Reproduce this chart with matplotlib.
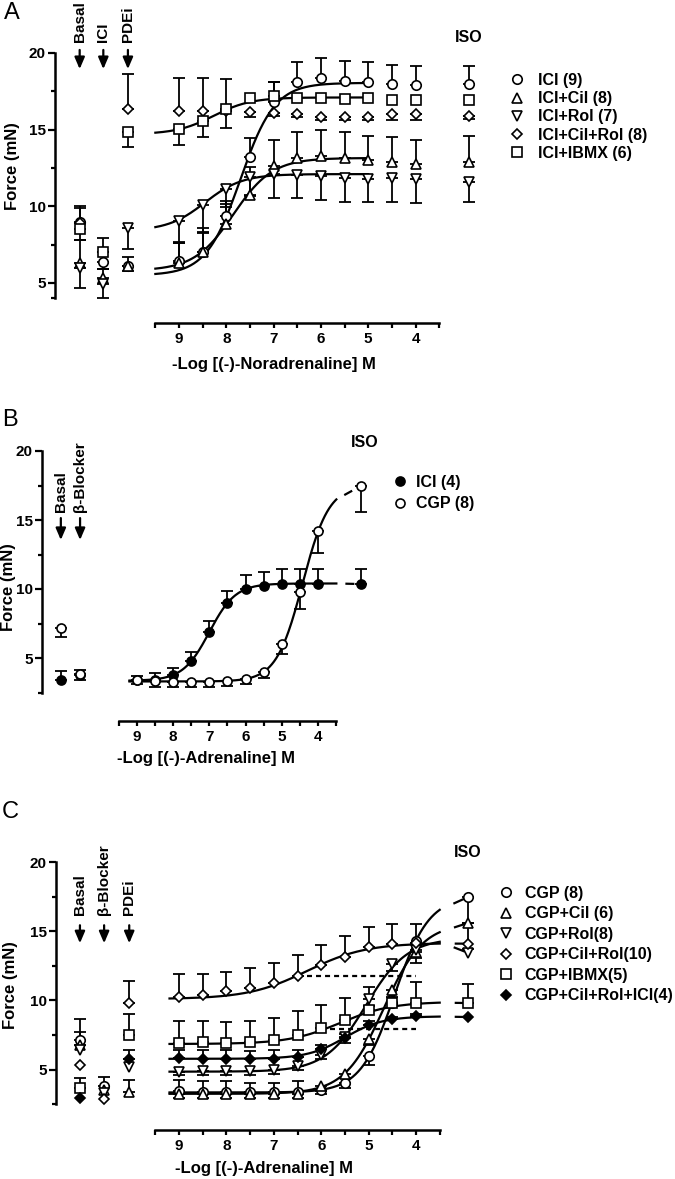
import numpy as np
import matplotlib.pyplot as plt
from matplotlib import font_manager
from matplotlib.lines import Line2D

plt.rcParams['font.family'] = ['Liberation Sans', 'DejaVu Sans']
plt.rcParams['font.weight'] = 'bold'
plt.rcParams['lines.scale_dashes'] = False

installed = {f.name for f in font_manager.fontManager.ttflist}
NARROW = 'Liberation Sans Narrow' if 'Liberation Sans Narrow' in installed else 'Liberation Sans'

W, H = 675, 1179
conc = [9, 8.5, 8, 7.5, 7, 6.5, 6, 5.5, 5, 4.5, 4]

# ---------------- panel A : noradrenaline ----------------
a_labels = ['ICI (9)', 'ICI+Cil (8)', 'ICI+Rol (7)', 'ICI+Cil+Rol (8)', 'ICI+IBMX (6)']
a_y = [
    [6.4, 7.05, 9.35, 13.2, 16.8, 18.1, 18.4, 18.15, 18.1, 17.95, 17.9],
    [6.3, 7.0, 8.85, 10.75, 12.65, 13.15, 13.3, 13.15, 13.0, 12.9, 12.75],
    [9.05, 10.1, 11.1, 11.9, 12.1, 12.05, 11.95, 11.85, 11.8, 11.85, 11.75],
    [16.2, 16.2, 16.2, 16.15, 16.1, 16.05, 15.8, 15.8, 15.8, 16.0, 16.0],
    [15.05, 15.55, 16.35, 17.05, 17.2, 17.05, 17.05, 17.0, 17.05, 16.95, 16.95],
]
# signed SEM: + drawn upwards, - drawn downwards
a_err = [
    [1.2, 1.2, 1.0, 1.25, 1.3, 1.3, 1.3, 1.3, 1.3, 1.25, 1.25],
    [1.3, 1.6, 1.3, 1.8, 1.65, 1.7, 1.7, 1.7, 1.6, 1.65, 1.6],
    [-1.4, -1.8, -1.15, -1.2, -1.55, -1.5, -1.55, -1.6, -1.55, -1.6, -1.55],
    [2.2, 2.15, 2.1, -0.35, -0.2, -0.25, -0.2, -0.2, -0.2, -0.4, -0.35],
    [-1.05, -1.05, -1.25, 0, 0.9, 0, 0, 0, 0, 0, 0],
]
a_side = ['Basal', 'ICI', 'PDEi']
a_side_y = [[8.95, 6.35, 6.1], [6.3, 5.3, 6.1], [6.0, 4.95, 8.6],
            [8.9, 7.05, 16.35], [8.5, 7.0, 14.85]]
a_side_err = [[1.1, -0.45, -0.35], [1.5, 0.6, 0.6], [-1.3, -0.9, -1.4],
              [1.0, 0.85, 2.25], [-0.7, 0, -1.0]]
a_iso_y = [18.0, 12.9, 11.6, 15.87, 16.96]
a_iso_err = [1.13, 1.68, -1.33, -0.2, 0]
# sigmoid fits: bottom, top, -logEC50, slope
a_fit = [(5.5, 18.05, 7.7, 1.2), (5.8, 13.15, 7.85, 1.05), (8.4, 12.1, 8.45, 1.1),
         None, (14.7, 17.1, 8.27, 1.1)]

# ---------------- panel B : adrenaline ----------------
b_labels = ['ICI (4)', 'CGP (8)']
b_y = [
    [3.41, 3.41, 3.77, 4.78, 6.9, 9.0, 10.0, 10.24, 10.36, 10.36, 10.36],
    [3.41, 3.33, 3.29, 3.29, 3.29, 3.33, 3.48, 4.0, 5.99, 9.76, 14.23],
]
b_err = [
    [0.3, 0.5, 0.48, 0.68, 0.8, 0.88, 1.0, 0.96, 1.06, 1.06, 1.1],
    [-0.3, -0.4, -0.4, -0.4, -0.4, -0.35, -0.35, -0.43, -0.7, -1.19, -1.6],
]
b_side = ['Basal', 'β-Blocker']
b_side_y = [[3.41, 3.75], [7.15, 3.82]]
b_side_err = [[0.65, 0.4], [-0.65, -0.45]]
b_iso_y = [10.36, 17.46]
b_iso_err = [1.1, -1.86]
b_fit = [(3.35, 10.4, 7.0, 1.2), (3.3, 17.5, 4.43, 1.2)]

# ---------------- panel C : adrenaline + PDE inhibitors ----------------
c_labels = ['CGP (8)', 'CGP+Cil (6)', 'CGP+Rol(8)', 'CGP+Cil+Rol(10)', 'CGP+IBMX(5)',
            'CGP+Cil+Rol+ICI(4)']
c_y = [
    [3.42, 3.4, 3.4, 3.35, 3.35, 3.37, 3.54, 4.02, 5.95, 9.81, 14.27],
    [3.25, 3.25, 3.25, 3.25, 3.25, 3.25, 3.78, 4.7, 7.18, 10.77, 13.5],
    [4.85, 4.88, 4.88, 4.88, 4.94, 5.25, 6.07, 7.35, 10.07, 12.65, 13.66],
    [10.24, 10.36, 10.65, 10.92, 11.25, 11.73, 12.53, 13.13, 13.86, 14.1, 14.14],
    [6.95, 7.0, 6.92, 6.99, 7.16, 7.47, 8.0, 8.55, 9.33, 9.81, 9.83],
    [5.85, 5.8, 5.8, 5.78, 5.8, 5.9, 6.5, 7.3, 8.24, 8.63, 8.84],
]
c_err = [
    [0.8, 0.8, 0.8, 0.7, 0.7, 0.8, -0.3, -0.35, -0.6, 0, 0],
    [-0.3, -0.3, -0.3, -0.3, -0.3, -0.3, -0.3, -0.3, -0.4, -0.5, -0.8],
    [-0.25, -0.25, -0.25, -0.25, -0.25, -0.25, -0.3, -0.4, -0.5, -0.5, -0.6],
    [1.64, 1.57, 1.4, 1.42, 1.45, 1.52, 1.45, 1.5, 1.44, 1.44, 1.4],
    [1.54, 1.5, 1.55, 1.5, 1.6, 1.73, 1.69, 1.64, 1.63, 0, 1.5],
    [0.6, 0.6, 0.6, 0.6, 0.6, 0.55, 0.3, 0.3, 0.3, 0.2, 0.2],
]
c_side = ['Basal', 'β-Blocker', 'PDEi']
c_side_y = [[7.16, 3.8, np.nan], [6.75, 3.5, 3.37], [6.45, 3.3, 5.18],
            [5.35, 2.9, 9.83], [3.69, np.nan, 7.52], [2.94, np.nan, 5.78]]
c_side_err = [[1.47, 0.7, 0], [0.95, 0, 0.9], [0, 0, 0],
              [0, 0, 1.54], [0.7, 0, 1.52], [0, 0, 0.65]]
c_iso_y = [17.47, 15.6, 13.43, 14.1, 9.81, 8.8]
c_iso_err = [-1.9, -1.9, 0, 0, 1.35, 0]
c_fit = [(3.35, 17.5, 4.45, 1.2), (3.25, 15.6, 4.68, 1.05), (4.85, 14.5, 5.05, 1.0),
         (10.1, 14.15, 6.3, 0.7), (6.85, 9.9, 5.6, 0.8), (5.78, 8.85, 5.5, 1.1)]
c_level_y = [11.76, 7.91]
c_level_from = [6.31, 5.81]
c_level_to = [4.0, 4.0]


def hill(x, bottom, top, pec50, slope):
    return bottom + (top - bottom) / (1 + 10 ** ((np.asarray(x) - pec50) * slope))


def make_axes(fig, box, x9, xunit, y20, yunit, ybottom, family, tsize):
    l, t, r, b = box
    ax = fig.add_axes([l / W, 1 - b / H, (r - l) / W, (b - t) / H])
    ax.set_xlim(9 + (x9 - l) / xunit, 9 - (r - x9) / xunit)
    ax.set_ylim(20 - (b - y20) / yunit, 20 + (y20 - t) / yunit)
    ax.patch.set_visible(False)
    ax.spines['top'].set_visible(False)
    ax.spines['right'].set_visible(False)
    for s in ['left', 'bottom']:
        ax.spines[s].set_linewidth(1.8)
    ax.spines['left'].set_bounds(ybottom, 20)
    ax.spines['bottom'].set_bounds(3.5, 9.5)
    ax.set_yticks([5, 10, 15, 20])
    ax.set_yticks([ybottom, 7.5, 12.5, 17.5], minor=True)
    ax.set_xticks([9, 8, 7, 6, 5, 4])
    ax.set_xticks([9.5, 8.5, 7.5, 6.5, 5.5, 4.5, 3.5], minor=True)
    ax.tick_params(axis='y', which='major', direction='out', length=5, width=1.6,
                   pad=1.5, labelsize=tsize, labelfontfamily=family)
    ax.tick_params(axis='y', which='minor', direction='out', length=3, width=1.6)
    ax.tick_params(axis='x', which='both', direction='out', length=3.5, width=1.6,
                   pad=3, labelsize=tsize, labelfontfamily=family)
    return ax


def draw_panel(ax, ys, errs, markers, filled, fits, side_y, side_err, side_x,
               iso_y, iso_err, iso_x, ms, fit_range, iso_dash=None):
    for i in range(len(ys)):
        x = np.array(conc + side_x + [iso_x], dtype=float)
        y = np.array(ys[i] + side_y[i] + [iso_y[i]], dtype=float)
        e = np.array(errs[i] + side_err[i] + [iso_err[i]], dtype=float)
        ok = ~np.isnan(y)
        x, y, e = x[ok], y[ok], e[ok]
        if fits[i] is not None:
            xx = np.linspace(fit_range[0], fit_range[1], 200)
            ax.plot(xx, hill(xx, *fits[i]), color='k', lw=1.6, zorder=2)
            if iso_dash is not None:
                ax.plot([fit_range[1], iso_x], [hill(fit_range[1], *fits[i]), iso_y[i]],
                        color='k', lw=1.6, ls=iso_dash, zorder=2)
        bar = e != 0
        lower = np.where(e < 0, -e, 0)
        upper = np.where(e > 0, e, 0)
        ax.errorbar(x[bar], y[bar], yerr=[lower[bar], upper[bar]], fmt='none',
                    ecolor='k', elinewidth=1.3, capsize=4, capthick=1.3, zorder=3)
        size = ms * 0.75 if markers[i] == 'D' else ms
        ax.plot(x, y, ls='none', marker=markers[i], ms=size, mew=1.2, mec='k',
                mfc='k' if filled[i] else 'white', zorder=4 + i * 0.01)


def side_labels(ax, names, xs, text_y, tail, tip, family):
    for name, x in zip(names, xs):
        ax.text(x, text_y, name, rotation=90, ha='center', va='bottom',
                fontsize=11, family=family)
        ax.annotate('', xy=(x, tip), xytext=(x, tail),
                    arrowprops=dict(arrowstyle='-|>,head_width=0.3,head_length=0.7',
                                    lw=1.6, color='k', shrinkA=0, shrinkB=0))


def legend(ax, fig, labels, markers, filled, ms, left, top, pad, spacing, family):
    handles = []
    for m, f in zip(markers, filled):
        size = ms * 0.75 if m == 'D' else ms
        handles.append(Line2D([], [], ls='none', marker=m, ms=size, mew=1.2, mec='k',
                              mfc='k' if f else 'white'))
    ax.legend(handles, labels, loc='upper left', bbox_to_anchor=(left / W, 1 - top / H),
              bbox_transform=fig.transFigure, frameon=False, borderpad=0,
              borderaxespad=0, handlelength=1.0, handletextpad=pad,
              labelspacing=spacing, prop=dict(family=family, weight='bold', size=11.5))


def ftext(fig, px, py, s, **kw):
    fig.text(px / W, 1 - py / H, s, **kw)


fig = plt.figure(figsize=(W / 100, H / 100), dpi=100)
fam = ['Liberation Sans', 'DejaVu Sans']
narrow = [NARROW, 'DejaVu Sans']

# ---- A ----
axA = make_axes(fig, (55, 30, 670, 323), 179, 47.3, 53, 15.33, 4, fam, 11)
draw_panel(axA, a_y, a_err, ['o', '^', 'v', 'D', 's'], [False] * 5, a_fit,
           a_side_y, a_side_err, [11.1, 10.6, 10.08], a_iso_y, a_iso_err, 2.87,
           6.8, (9.5, 5.0))
side_labels(axA, a_side, [11.1, 10.6, 10.08], 20.7, 20.2, 18.95, fam)
axA.text(2.87, 20.98, 'ISO', ha='center', va='center', fontsize=11.5)
legend(axA, fig, a_labels, ['o', '^', 'v', 'D', 's'], [False] * 5, 6.8,
       509, 73, 0.8, 0.2, fam)
ftext(fig, 4, 2, 'A', fontsize=17, weight='normal', va='top', ha='left')
ftext(fig, 13, 166, 'Force (mN)', rotation=90, ha='center', va='center', fontsize=12)
ftext(fig, 274, 365, '-Log [(-)-Noradrenaline] M', ha='center', va='center', fontsize=12)

# ---- B ----
axB = make_axes(fig, (42, 440, 670, 721), 136.7, 36.3, 451, 13.8, 2.5, narrow, 11)
draw_panel(axB, b_y, b_err, ['o', 'o'], [True, False], b_fit, b_side_y, b_side_err,
           [11.09, 10.56], b_iso_y, b_iso_err, 2.83, 6.5, (9.2, 3.5),
           iso_dash=(6.5, (6.5, 6.5)))
side_labels(axB, b_side, [11.09, 10.56], 15.58, 15.14, 13.55, narrow)
axB.text(2.71, 20.58, 'ISO', ha='center', va='center', fontsize=11.5, family=narrow)
legend(axB, fig, b_labels, ['o', 'o'], [True, False], 6.5, 392, 475, 0.48, 0.4, narrow)
ftext(fig, 2, 409, 'B', fontsize=17, weight='normal', va='top', ha='left', family=narrow)
ftext(fig, 9, 587, 'Force (mN)', rotation=90, ha='center', va='center', fontsize=12,
      family=narrow)
ftext(fig, 206, 758, '-Log [(-)-Adrenaline] M', ha='center', va='center', fontsize=12,
      family=narrow)

# ---- C ----
axC = make_axes(fig, (56, 845, 670, 1130), 179, 47.4, 862, 13.84, 2.5, fam, 11)
draw_panel(axC, c_y, c_err, ['o', '^', 'v', 'D', 's', 'D'], [False] * 5 + [True], c_fit,
           c_side_y, c_side_err, [11.09, 10.58, 10.05], c_iso_y, c_iso_err, 2.9,
           6.8, (9.2, 3.5), iso_dash=(8.6, (8.6, 10.8)))
for lv, x0, x1 in zip(c_level_y, c_level_from, c_level_to):
    axC.plot([x0, x1], [lv, lv], color='k', lw=1.6, ls=(0, (3.6, 2.9)), zorder=2)
side_labels(axC, c_side, [11.09, 10.58, 10.05], 16.15, 15.43, 14.13, fam)
axC.text(2.92, 20.7, 'ISO', ha='center', va='center', fontsize=11.5)
legend(axC, fig, c_labels, ['o', '^', 'v', 'D', 's', 'D'], [False] * 5 + [True], 6.8,
       498, 886, 0.67, 0.34, fam)
ftext(fig, 2, 801, 'C', fontsize=17, weight='normal', va='top', ha='left')
ftext(fig, 11, 985, 'Force (mN)', rotation=90, ha='center', va='center', fontsize=12)
ftext(fig, 264, 1168, '-Log [(-)-Adrenaline] M', ha='center', va='center', fontsize=12)

fig.savefig('out.png', dpi=100)
